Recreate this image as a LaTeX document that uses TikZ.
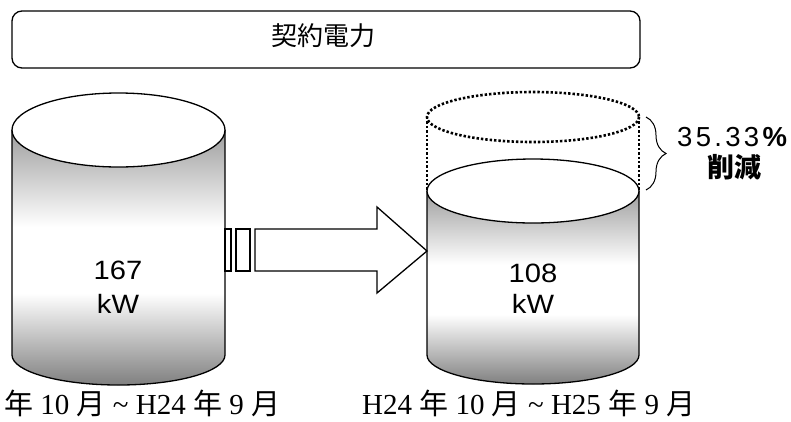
\documentclass[tikz,border=0pt]{standalone}
\usepackage{fontspec}
\setmainfont{Liberation Serif}
\setsansfont{Liberation Sans}
\newfontfamily\cjk{Noto Sans CJK JP}
\usetikzlibrary{decorations.pathreplacing}
\pgfdeclareverticalshading{cylshade}{100bp}{color(0bp)=(black!50); color(25bp)=(black!50); color(43bp)=(white); color(56bp)=(white); color(75bp)=(black!38); color(100bp)=(black!38)}
\tikzset{
  outline/.style={draw=black, line width=1.3pt},
  dotline/.style={draw=black, line width=2.6pt, dash pattern=on 2.4pt off 2pt},
  valtext/.style={font=\sffamily\fontsize{26.5}{30}\selectfont, xscale=1.1, inner sep=0pt},
  periodtext/.style={font=\fontsize{29}{32}\selectfont, inner sep=0pt, anchor=base west},
}
\begin{document}
\begin{tikzpicture}[x=1pt,y=-1pt]
\useasboundingbox (0,0) rectangle (791,421);
% title box
\node[outline, rounded corners=10pt, minimum width=628pt, minimum height=57pt, inner sep=0pt] (title) at (326,39.5) {};
\node[font=\cjk\fontsize{26}{30}\selectfont, inner sep=0pt] (titletext) at (323,36) {契約電力};

% left cylinder
\path[shading=cylshade] (12,130) -- (12,355) arc[start angle=180, end angle=0, x radius=106.5, y radius=30] -- (225,130) -- cycle;
\draw[outline] (12,130) -- (12,355) arc[start angle=180, end angle=0, x radius=106.5, y radius=30] -- (225,130);
\draw[outline, fill=white] (118.5,130) ellipse[x radius=106.5, y radius=37];
\node[valtext] (v1) at (118,270) {167};
\node[valtext] (u1) at (118,303.5) {kW};

% dotted former size
\draw[dotline] (533,117) ellipse[x radius=106, y radius=25];
\draw[dotline] (427,117) -- (427,190);
\draw[dotline] (639,117) -- (639,190);

% right cylinder
\path[shading=cylshade] (427,191) -- (427,355) arc[start angle=180, end angle=0, x radius=106, y radius=29] -- (639,191) -- cycle;
\draw[outline] (427,191) -- (427,355) arc[start angle=180, end angle=0, x radius=106, y radius=29] -- (639,191);
\draw[outline, fill=white] (533,191) ellipse[x radius=106, y radius=32];
\node[valtext] (v2) at (533,273) {108};
\node[valtext] (u2) at (533,303.5) {kW};

% block arrow
\draw[outline, fill=white] (225,229) rectangle (231,271);
\draw[outline, fill=white] (236,229) rectangle (250,271);
\draw[outline, fill=white, line join=miter] (255,229) -- (377,229) -- (377,207) -- (427,251) -- (377,293) -- (377,271) -- (255,271) -- cycle;

% brace and reduction
\draw[line width=1pt, decorate, decoration={brace, amplitude=20pt}] (646,117) -- (646,190);
\node[font=\sffamily\fontsize{27.5}{30}\selectfont, inner sep=0pt, anchor=west] (pct) at (677,137) {{\addfontfeature{LetterSpace=12}35.33}\textbf{\%}};
\node[font=\cjk\bfseries\fontsize{27}{30}\selectfont, inner sep=0pt] (cut) at (734,167) {削減};

% period labels
\node[periodtext] (p1) at (4,414) {{\cjk 年} 10 {\cjk 月} \textasciitilde{} H24 {\cjk 年} 9 {\cjk 月}};
\node[periodtext] (p2) at (362,414) {H24 {\cjk 年} 10 {\cjk 月} \textasciitilde{} H25 {\cjk 年} 9 {\cjk 月}};
\end{tikzpicture}
\end{document}
